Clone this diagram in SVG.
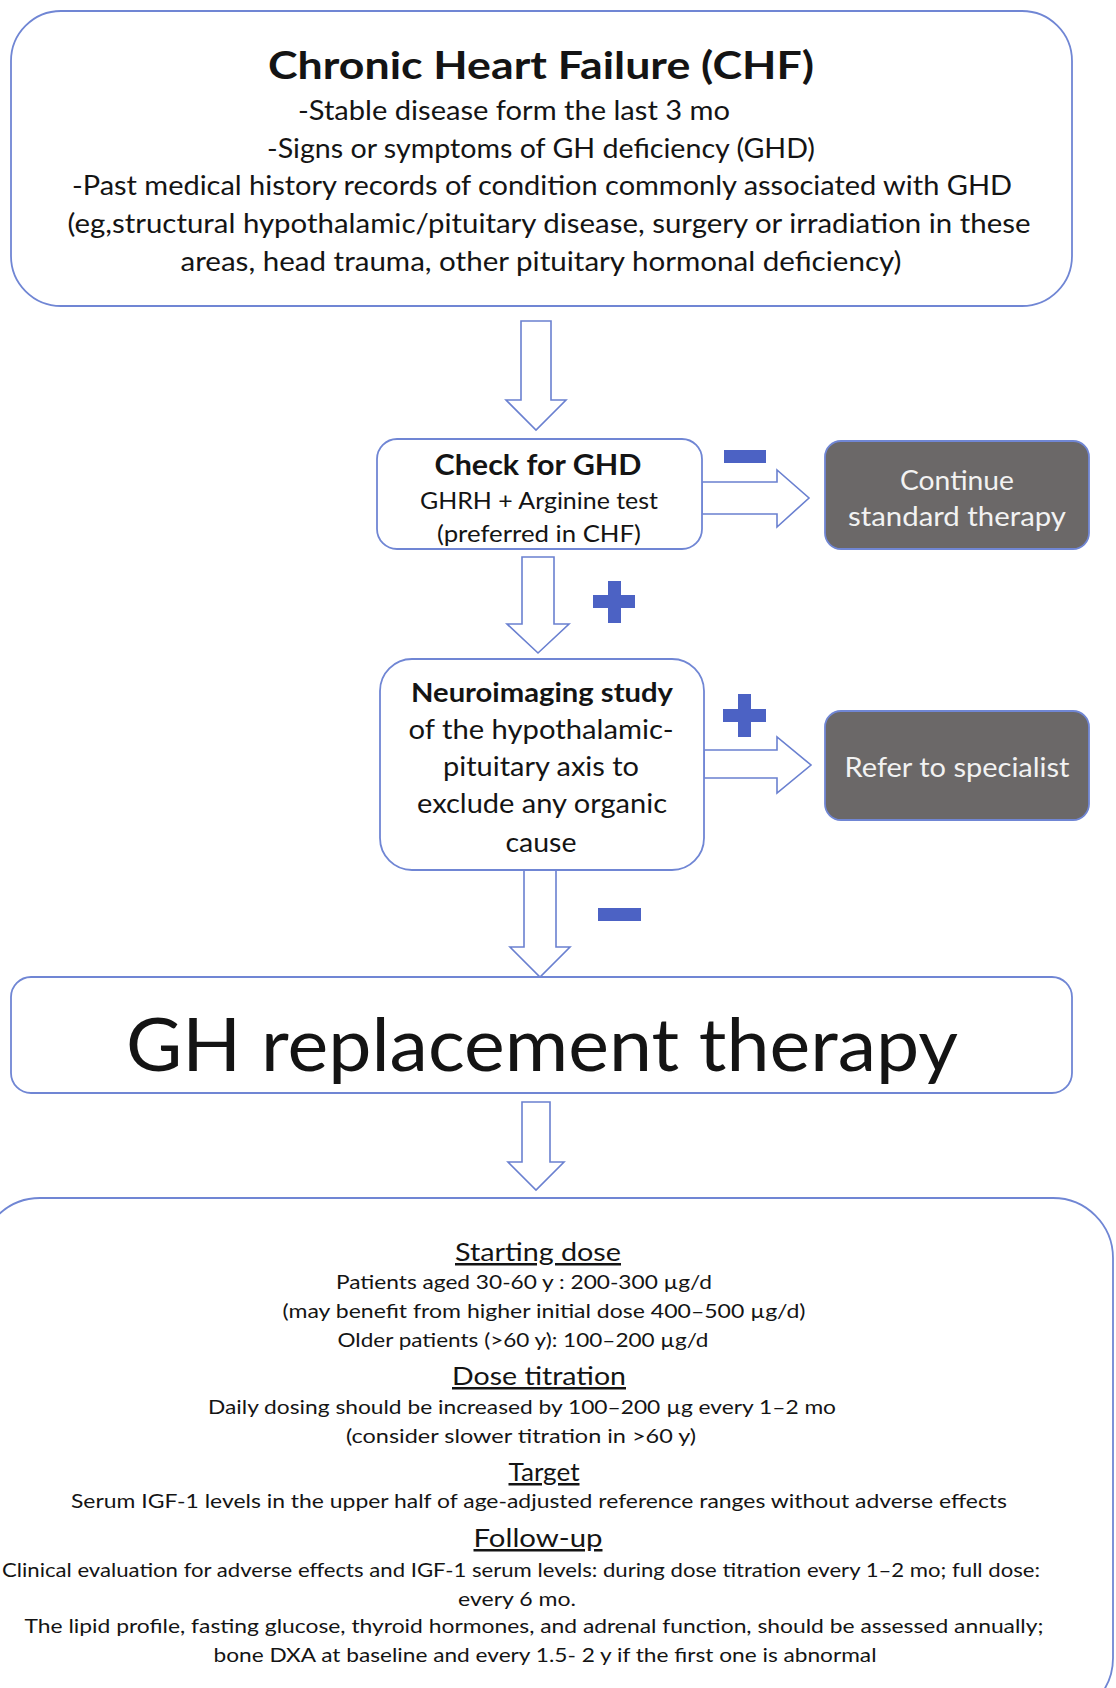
<svg xmlns="http://www.w3.org/2000/svg" width="1116" height="1688" viewBox="0 0 1116 1688">
<style>
text{font-family:Lato,"Liberation Sans",sans-serif;fill:#141414;text-anchor:middle}
.box{fill:#fff;stroke:#7086d4;stroke-width:1.8}
.dark{fill:#6b6868;stroke:#7086d4;stroke-width:1.8}
.light{fill:#f2f2f2}
.arrow{fill:#fff;stroke:#6a80d0;stroke-width:1.6;stroke-linejoin:miter}
.sign{fill:#4c62c4}
.b{font-weight:700}
.u{text-decoration:underline}
</style>
<rect width="1116" height="1688" fill="#fff"/>
<g id="connectors">
<polygon class="arrow" points="521,321 551,321 551,400 566,400 536,430 506,400 521,400"/>
<polygon class="arrow" points="702,482 777,482 777,470 809,498 777,527 777,514 702,514"/>
<polygon class="arrow" points="522,557 554,557 554,624 569,624 538,653 507,624 522,624"/>
<polygon class="arrow" points="704,750 777,750 777,737 811,765 777,793 777,778 704,778"/>
<polygon class="arrow" points="524,870 556,870 556,947 570,947 540,977 510,947 524,947"/>
<polygon class="arrow" points="522,1102 550,1102 550,1162 564,1162 536,1190 508,1162 522,1162"/>
<rect class="sign" x="724" y="450" width="42" height="13"/>
<rect class="sign" x="593" y="595" width="42" height="13"/>
<rect class="sign" x="608" y="581" width="13" height="42"/>
<rect class="sign" x="723" y="709" width="43" height="13"/>
<rect class="sign" x="738" y="694" width="13" height="43"/>
<rect class="sign" x="598" y="908" width="43" height="13"/>
</g>
<g id="chf">
<rect class="box" x="11" y="11" width="1061" height="295" rx="50"/>
<text class="b" x="541" y="79" font-size="38" textLength="546" lengthAdjust="spacingAndGlyphs">Chronic Heart Failure (CHF)</text>
<text x="514" y="120" font-size="27" textLength="432" lengthAdjust="spacingAndGlyphs">-Stable disease form the last 3 mo</text>
<text x="541" y="158" font-size="27" textLength="548" lengthAdjust="spacingAndGlyphs">-Signs or symptoms of GH deficiency (GHD)</text>
<text x="542" y="195" font-size="27" textLength="940" lengthAdjust="spacingAndGlyphs">-Past medical history records of condition commonly associated with GHD</text>
<text x="549" y="233" font-size="27" textLength="963" lengthAdjust="spacingAndGlyphs">(eg,structural hypothalamic/pituitary disease, surgery or irradiation in these</text>
<text x="541" y="271" font-size="27" textLength="721" lengthAdjust="spacingAndGlyphs">areas, head trauma, other pituitary hormonal deficiency)</text>
</g>
<g id="check">
<rect class="box" x="377" y="439" width="325" height="110" rx="20"/>
<text class="b" x="538" y="475" font-size="28" textLength="207" lengthAdjust="spacingAndGlyphs">Check for GHD</text>
<text x="539" y="509" font-size="23" textLength="238" lengthAdjust="spacingAndGlyphs">GHRH + Arginine test</text>
<text x="539" y="542" font-size="23" textLength="204" lengthAdjust="spacingAndGlyphs">(preferred in CHF)</text>
</g>
<g id="continue">
<rect class="dark" x="825" y="441" width="264" height="108" rx="16"/>
<text class="light" x="957" y="490" font-size="26" textLength="114" lengthAdjust="spacingAndGlyphs">Continue</text>
<text class="light" x="957" y="526" font-size="26" textLength="218" lengthAdjust="spacingAndGlyphs">standard therapy</text>
</g>
<g id="neuro">
<rect class="box" x="380" y="659" width="324" height="211" rx="32"/>
<text class="b" x="542" y="702" font-size="26" textLength="262" lengthAdjust="spacingAndGlyphs">Neuroimaging study</text>
<text x="541" y="739" font-size="26" textLength="265" lengthAdjust="spacingAndGlyphs">of the hypothalamic-</text>
<text x="541" y="776" font-size="26" textLength="196" lengthAdjust="spacingAndGlyphs">pituitary axis to</text>
<text x="542" y="813" font-size="26" textLength="250" lengthAdjust="spacingAndGlyphs">exclude any organic</text>
<text x="541" y="852" font-size="26" textLength="71" lengthAdjust="spacingAndGlyphs">cause</text>
</g>
<g id="refer">
<rect class="dark" x="825" y="711" width="264" height="109" rx="16"/>
<text class="light" x="957" y="777" font-size="26" textLength="225" lengthAdjust="spacingAndGlyphs">Refer to specialist</text>
</g>
<g id="ghrt">
<rect class="box" x="11" y="977" width="1061" height="116" rx="20"/>
<text x="542" y="1071" font-size="74" textLength="832" lengthAdjust="spacingAndGlyphs">GH replacement therapy</text>
</g>
<g id="details">
<rect class="box" x="-20" y="1198" width="1133" height="520" rx="60"/>
<text class="u" x="538" y="1261" font-size="25" textLength="166" lengthAdjust="spacingAndGlyphs">Starting dose</text>
<text x="524" y="1289" font-size="19" textLength="376" lengthAdjust="spacingAndGlyphs">Patients aged 30-60 y : 200-300 µg/d</text>
<text x="544" y="1318" font-size="19" textLength="523" lengthAdjust="spacingAndGlyphs">(may benefit from higher initial dose 400–500 µg/d)</text>
<text x="523" y="1347" font-size="19" textLength="371" lengthAdjust="spacingAndGlyphs">Older patients (&gt;60 y): 100–200 µg/d</text>
<text class="u" x="539" y="1385" font-size="25" textLength="174" lengthAdjust="spacingAndGlyphs">Dose titration</text>
<text x="522" y="1414" font-size="19" textLength="628" lengthAdjust="spacingAndGlyphs">Daily dosing should be increased by 100–200 µg  every 1–2 mo</text>
<text x="521" y="1443" font-size="19" textLength="350" lengthAdjust="spacingAndGlyphs">(consider slower titration in  &gt;60 y)</text>
<text class="u" x="544" y="1481" font-size="25" textLength="71" lengthAdjust="spacingAndGlyphs">Target</text>
<text x="539" y="1508" font-size="19" textLength="936" lengthAdjust="spacingAndGlyphs">Serum IGF-1 levels in the upper half of age-adjusted reference ranges without adverse effects</text>
<text class="u" x="538" y="1547" font-size="25" textLength="129" lengthAdjust="spacingAndGlyphs">Follow-up</text>
<text x="2" y="1577" font-size="19" style="text-anchor:start" textLength="1038" lengthAdjust="spacingAndGlyphs">Clinical evaluation for adverse effects and IGF-1 serum levels: during dose titration every 1–2 mo; full dose:</text>
<text x="517" y="1606" font-size="19" textLength="118" lengthAdjust="spacingAndGlyphs">every 6 mo.</text>
<text x="534" y="1633" font-size="19" textLength="1019" lengthAdjust="spacingAndGlyphs">The lipid profile, fasting glucose, thyroid hormones, and adrenal function, should be assessed annually;</text>
<text x="545" y="1662" font-size="19" textLength="663" lengthAdjust="spacingAndGlyphs">bone DXA at baseline and every 1.5- 2 y if the first one is abnormal</text>
</g>
</svg>
